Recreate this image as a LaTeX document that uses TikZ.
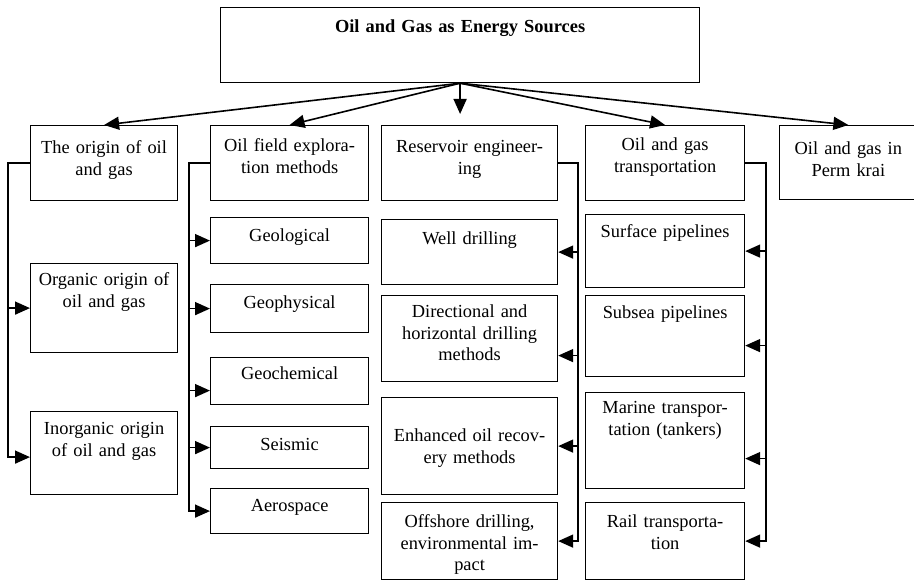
\documentclass[tikz,border=0pt]{standalone}
\usepackage{fontspec}
\setmainfont{Liberation Serif}
\usetikzlibrary{arrows.meta}

\begin{document}
\begin{tikzpicture}[x=1pt, y=-1pt, >={Triangle[length=15pt,width=13pt]},
    box/.style={draw, line width=1.2pt, anchor=north west, inner sep=0pt, align=center},
    hd/.style 2 args={text height=#1pt, text depth=#2pt},
    link/.style={->, line width=1.6pt}]
  \tikzstyle{every node}=[font=\fontsize{18.4}{21.5}\selectfont]
  \useasboundingbox (0,0) rectangle (914,580);

  \node[box, hd={25}{50}, text width=479pt] (title) at (220,7) {\textbf{Oil and Gas as Energy Sources}};

  % first row
  \node[box, hd={28}{47}, text width=147pt] (origin) at (30,125) {The origin of oil\\and gas};
  \node[box, hd={26}{49}, text width=158pt] (explore) at (210,125) {Oil field explora-\\tion methods};
  \node[box, hd={27}{48}, text width=176pt] (reservoir) at (381,125) {Reservoir engineer-\\ing};
  \node[box, hd={25}{50}, text width=159pt] (transport) at (585,125) {Oil and gas\\transportation};
  \node[box, hd={29}{45}, text width=137.5pt] (perm) at (779,125) {Oil and gas in\\Perm krai};

  % origin column
  \node[box, hd={22}{67}, text width=147pt] (organic) at (30,263) {Organic origin of\\oil and gas};
  \node[box, hd={23}{60}, text width=147pt] (inorganic) at (30,411) {Inorganic origin\\of oil and gas};

  % exploration column
  \node[box, hd={24}{22}, text width=158pt] (geolog) at (210,217) {Geological};
  \node[box, hd={24}{24}, text width=158pt] (geophys) at (210,284) {Geophysical};
  \node[box, hd={22}{25}, text width=158pt] (geochem) at (210,357) {Geochemical};
  \node[box, hd={24}{18}, text width=158pt] (seismic) at (210,426) {Seismic};
  \node[box, hd={23}{22}, text width=158pt] (aero) at (210,488) {Aerospace};

  % reservoir column
  \node[box, hd={25}{40}, text width=176pt] (well) at (381,219) {Well drilling};
  \node[box, hd={22}{64}, text width=176pt] (direct) at (381,295) {Directional and\\horizontal drilling\\methods};
  \node[box, hd={44}{53}, text width=176pt] (enhanced) at (381,397) {Enhanced oil recov-\\ery methods};
  \node[box, hd={25}{52}, text width=176pt] (offshore) at (381,502) {Offshore drilling,\\environmental im-\\pact};

  % transportation column
  \node[box, hd={23}{50}, text width=159pt] (surface) at (585,214) {Surface pipelines};
  \node[box, hd={23}{58}, text width=159pt] (subsea) at (585,295) {Subsea pipelines};
  \node[box, hd={21}{75}, text width=159pt] (marine) at (585,392) {Marine transpor-\\tation (tankers)};
  \node[box, hd={25}{52}, text width=159pt] (rail) at (585,502) {Rail transporta-\\tion};

  \path[link]
    (title.south) edge (origin.north)
                  edge (explore.north)
                  edge (transport.north)
                  edge (perm.north);
  \draw[link, shorten >=11pt] (title.south) -- (title.south |- reservoir.north);

  \draw[link] (origin.west) -- ++(-22,0) |- (organic.west);
  \draw[link] (origin.west) -- ++(-22,0) |- ([yshift=-4pt]inorganic.west);

  \draw[link] (explore.west) -- ++(-21,0) |- (geolog.west);
  \draw[link] (explore.west) -- ++(-21,0) |- (geophys.west);
  \draw[link] (explore.west) -- ++(-21,0) |- ([yshift=-9.5pt]geochem.west);
  \draw[link] (explore.west) -- ++(-21,0) |- (seismic.west);
  \draw[link] (explore.west) -- ++(-21,0) |- (aero.west);

  \draw[link] (reservoir.east) -- ++(20,0) |- (well.east);
  \draw[link] (reservoir.east) -- ++(20,0) |- ([yshift=-17pt]direct.east);
  \draw[link] (reservoir.east) -- ++(20,0) |- (enhanced.east);
  \draw[link] (reservoir.east) -- ++(20,0) |- (offshore.east);

  \draw[link] (transport.east) -- ++(21,0) |- (surface.east);
  \draw[link] (transport.east) -- ++(21,0) |- ([yshift=-9.5pt]subsea.east);
  \draw[link] (transport.east) -- ++(21,0) |- ([yshift=-18pt]marine.east);
  \draw[link] (transport.east) -- ++(21,0) |- (rail.east);
\end{tikzpicture}
\end{document}
